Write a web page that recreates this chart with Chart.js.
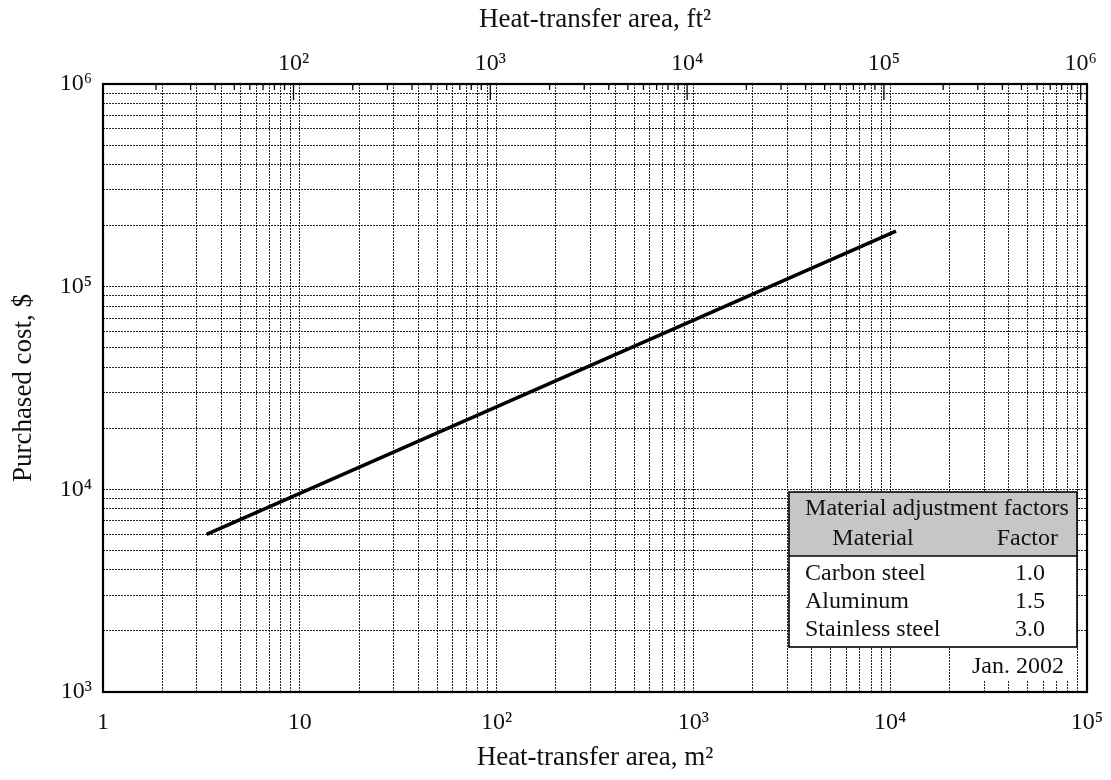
<!DOCTYPE html>
<html>
<head>
<meta charset="utf-8">
<script src="https://cdn.jsdelivr.net/npm/chart.js@4"></script>
<style>
  html, body { margin: 0; padding: 0; background: #fff; }
  #wrap { width: 1111px; height: 780px; position: relative; }
</style>
</head>
<body>
<div id="wrap"><canvas id="c"></canvas></div>
<script>
// ---- data ----
const xDecades = [1, 10, 100, 1000, 10000, 100000];
const xTickLabels = ['1', '10', '10²', '10³', '10⁴', '10⁵'];
const yDecades = [1000, 10000, 100000, 1000000];
const yTickLabels = ['10³', '10⁴', '10⁵', '10⁶'];
const ftDecades = [10, 100, 1000, 10000, 100000, 1000000];
const ftTickLabels = ['', '10²', '10³', '10⁴', '10⁵', '10⁶'];
const minorMultipliers = [1, 2, 3, 4, 5, 6, 7, 8, 9];
const M2_TO_FT2 = 10.7639;
const areaM2 = [3.36, 10700];
const purchasedCost = [6000, 188000];
const materials = ['Carbon steel', 'Aluminum', 'Stainless steel'];
const factors = ['1.0', '1.5', '3.0'];
const tableTitle = 'Material adjustment factors';
const tableHeads = ['Material', 'Factor'];
const dateNote = 'Jan. 2002';

const SERIF = '"Liberation Serif", "DejaVu Serif", serif';

function buildTicks(decades, min, max) {
  const out = [];
  decades.forEach(d => minorMultipliers.forEach(k => {
    const v = k * d;
    if (v >= min * 0.9999 && v <= max * 1.0001) out.push({ value: v });
  }));
  return out;
}
function labelFor(decades, labels) {
  return function (value) {
    const i = decades.indexOf(value);
    return i >= 0 ? labels[i] : '';
  };
}
function noPad(s) { s.paddingLeft = 0; s.paddingRight = 0; s.paddingTop = 0; s.paddingBottom = 0; }

const gridStyle = { color: 'rgba(0,0,0,0.85)', lineWidth: 1, drawTicks: false };

const overlay = {
  id: 'overlay',
  afterDatasetsDraw(chart) {
    const ctx = chart.ctx, ca = chart.chartArea, x2 = chart.scales.x2;
    ctx.save();
    // top axis inward tick marks (ft²)
    ctx.strokeStyle = '#000';
    ctx.lineWidth = 1.3;
    ftDecades.forEach(d => minorMultipliers.forEach(k => {
      const v = k * d;
      if (v < x2.min || v > x2.max) return;
      const px = x2.getPixelForValue(v);
      const len = k === 1 ? 16 : 6;
      ctx.beginPath();
      ctx.moveTo(px, ca.top);
      ctx.lineTo(px, ca.top + len);
      ctx.stroke();
    }));

    // material table
    const bx = ca.right - 298, by = ca.top + 408, bw = 288, bh = 155, hh = 64;
    ctx.fillStyle = '#fff';
    ctx.fillRect(bx, by, bw, bh);
    ctx.fillStyle = '#c6c6c6';
    ctx.fillRect(bx, by, bw, hh);
    ctx.strokeStyle = '#000';
    ctx.lineWidth = 1.6;
    ctx.strokeRect(bx, by, bw, bh);
    ctx.beginPath();
    ctx.moveTo(bx, by + hh); ctx.lineTo(bx + bw, by + hh); ctx.stroke();

    ctx.fillStyle = '#111';
    ctx.font = '24px ' + SERIF;
    ctx.textBaseline = 'alphabetic';
    ctx.textAlign = 'center';
    ctx.fillText(tableTitle, bx + bw / 2 + 4, by + 23);
    ctx.fillText(tableHeads[0], bx + 84, by + 53);
    ctx.textAlign = 'right';
    ctx.fillText(tableHeads[1], bx + bw - 19, by + 53);
    materials.forEach((m, i) => {
      ctx.textAlign = 'left';
      ctx.fillText(m, bx + 16, by + 88 + i * 28);
      ctx.textAlign = 'right';
      ctx.fillText(factors[i], bx + bw - 32, by + 88 + i * 28);
    });

    // date note
    ctx.fillStyle = '#fff';
    ctx.fillRect(ca.right - 128, by + bh + 1, 118, 33);
    ctx.fillStyle = '#111';
    ctx.textAlign = 'right';
    ctx.fillText(dateNote, ca.right - 23, by + bh + 26);

    // frame
    ctx.strokeStyle = '#000';
    ctx.lineWidth = 2.2;
    ctx.strokeRect(ca.left, ca.top, ca.right - ca.left, ca.bottom - ca.top);
    ctx.restore();
  }
};

new Chart(document.getElementById('c'), {
  type: 'line',
  data: {
    datasets: [{
      data: areaM2.map((a, i) => ({ x: a, y: purchasedCost[i] })),
      borderColor: '#000',
      borderWidth: 3.5,
      pointRadius: 0,
      fill: false,
      xAxisID: 'x',
      yAxisID: 'y'
    }]
  },
  options: {
    responsive: true,
    maintainAspectRatio: false,
    animation: false,
    layout: { padding: { left: 0, right: 24, top: 0, bottom: 0 } },
    plugins: { legend: { display: false }, tooltip: { enabled: false } },
    scales: {
      x: {
        type: 'logarithmic',
        position: 'bottom',
        min: 1, max: 100000,
        afterBuildTicks: s => { s.ticks = buildTicks(xDecades, s.min, s.max); },
        afterFit: s => { s.height = 88; noPad(s); },
        grid: gridStyle,
        border: { display: false, dash: [2, 1] },
        ticks: {
          autoSkip: false, maxRotation: 0, padding: 16, color: '#111',
          font: { family: SERIF, size: 24 },
          callback: labelFor(xDecades, xTickLabels)
        },
        title: {
          display: true, text: 'Heat-transfer area, m²', color: '#111',
          font: { family: SERIF, size: 27 }, padding: { top: 0, bottom: 6 }
        }
      },
      x2: {
        type: 'logarithmic',
        position: 'top',
        min: 1 * M2_TO_FT2, max: 100000 * M2_TO_FT2,
        afterBuildTicks: s => { s.ticks = ftDecades.filter(v => v >= s.min && v <= s.max * 1.0001).map(v => ({ value: v })); },
        afterFit: s => { s.height = 84; noPad(s); },
        grid: { drawOnChartArea: false, drawTicks: false },
        border: { display: false },
        ticks: {
          autoSkip: false, maxRotation: 0, padding: 6, color: '#111',
          font: { family: SERIF, size: 24 },
          callback: labelFor(ftDecades, ftTickLabels)
        },
        title: {
          display: true, text: 'Heat-transfer area, ft²', color: '#111',
          font: { family: SERIF, size: 27 }, padding: { top: 4, bottom: 0 }
        }
      },
      y: {
        type: 'logarithmic',
        position: 'left',
        min: 1000, max: 1000000,
        afterBuildTicks: s => { s.ticks = buildTicks(yDecades, s.min, s.max); },
        afterFit: s => { s.width = 103; noPad(s); },
        grid: gridStyle,
        border: { display: false, dash: [2, 1] },
        ticks: {
          autoSkip: false, padding: 11, color: '#111',
          font: { family: SERIF, size: 24 },
          callback: labelFor(yDecades, yTickLabels)
        },
        title: {
          display: true, text: 'Purchased cost, $', color: '#111',
          font: { family: SERIF, size: 27 }, padding: { top: 8, bottom: 0 }
        }
      }
    }
  },
  plugins: [overlay]
});
</script>
</body>
</html>
